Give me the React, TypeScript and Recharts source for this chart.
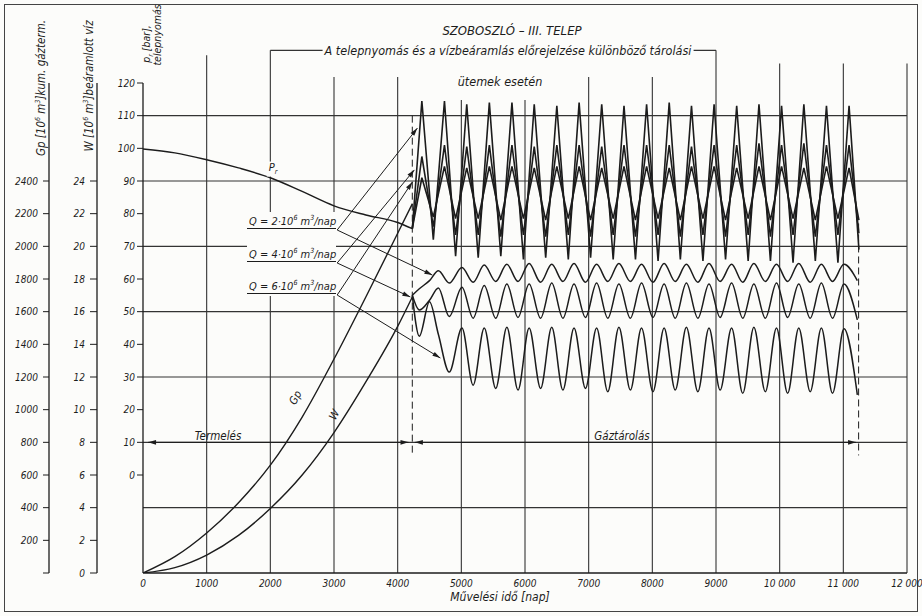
import { LineChart, Line, XAxis, YAxis, ReferenceLine } from 'recharts'
import type { ReactNode } from 'react'

const INK = '#1c1c1c'
const GRID = '#333'
const FONT = '"DejaVu Sans Condensed", "DejaVu Sans", sans-serif'

// y axis ids: Recharts stacks left axes by id, nearest the plot first
const PR = 'a_pr'
const W = 'b_w'
const GP = 'c_gp'

// axes
const dayTicks = [0, 1000, 2000, 3000, 4000, 5000, 6000, 7000, 8000, 9000, 10000, 11000, 12000]
const prTicks = [0, 10, 20, 30, 40, 50, 60, 70, 80, 90, 100, 110, 120]
const wTicks = [0, 2, 4, 6, 8, 10, 12, 14, 16, 18, 20, 22, 24]
const gpTicks = [0, 200, 400, 600, 800, 1000, 1200, 1400, 1600, 1800, 2000, 2200, 2400]
const gridPr = [110, 90, 70, 50, 30, 10, -10]
const gridDays = [1000, 2000, 3000, 4000, 5000, 6000, 7000, 8000, 9000, 10000, 11000, 12000]
const gridTopPr = [128.5, 130, 121.8, 121.8, 114.8, 114.8, 121.8, 121.8, 130, 126, 126, 126]

// production period (Termelés)
const prodDays = [0, 500, 1000, 1500, 2000, 2500, 3000, 3500, 4000, 4230]
const prodPr = [99.8, 98.6, 96.5, 94, 91, 86.8, 82.4, 79.6, 77.3, 75.4]
const prodGp = [0, 100, 245, 430, 660, 955, 1310, 1690, 2080, 2260]
const prodW = [0, 0.33, 1.1, 2.3, 3.95, 6.0, 8.6, 11.7, 15.1, 16.9]

// storage period (Gáztárolás) - reservoir pressure, bar
const upperDays = [4230, 4380, 4560, 4735, 4910, 5085, 5265, 5440, 5620, 5795, 5975, 6145, 6325, 6500, 6680, 6850, 7030, 7205, 7385, 7555, 7735, 7910, 8090, 8265, 8440, 8615, 8795, 8970, 9150, 9325, 9505, 9675, 9855, 10030, 10210, 10380, 10560, 10735, 10915, 11090, 11245]
const prQ6 = [75.4, 114.5, 72, 114.5, 67, 113.5, 66.5, 114, 67, 114, 66, 113.5, 66.5, 113, 66, 114, 66.5, 113.5, 66, 113, 66, 113.5, 65.5, 114, 66, 113, 65.5, 113.5, 66, 113, 65.5, 113.5, 65.5, 113, 65, 113.5, 65.5, 113, 65, 113, 69]
const prQ4 = [75.4, 97.5, 76, 101, 73.5, 100.5, 73.5, 101, 73, 101, 73.5, 100.5, 73, 101, 73.5, 101, 73, 100.5, 73.5, 101, 73, 101, 73.5, 101, 73, 100.5, 73.5, 101, 73, 101, 73.5, 101.5, 73, 101, 73.5, 101.5, 73, 101, 73.5, 101, 74]
const prQ2 = [75.4, 91, 79, 94.5, 78.5, 94, 78.5, 94.5, 78, 94.5, 78.5, 94, 78, 94.5, 78.5, 94.5, 78, 94, 78.5, 94.5, 78, 94.5, 78.5, 94, 78, 94.5, 78.5, 94.5, 78, 94, 78.5, 94.5, 78, 94.5, 78.5, 94, 78, 94.5, 78.5, 94, 78]

// storage period - water influx, 10^6 m3
const lowerDays = [4230, 4340, 4500, 4640, 4810, 5010, 5185, 5360, 5540, 5715, 5890, 6065, 6245, 6420, 6595, 6770, 6950, 7125, 7300, 7475, 7655, 7830, 8010, 8185, 8360, 8535, 8715, 8890, 9065, 9245, 9420, 9595, 9775, 9950, 10125, 10300, 10480, 10655, 10830, 11010, 11220]
const wQ2 = [17.0, 17.4, 17.9, 18.5, 17.75, 18.7, 17.8, 18.85, 17.85, 18.9, 17.85, 18.95, 17.8, 18.9, 17.85, 18.95, 17.8, 18.9, 17.85, 18.95, 17.85, 18.9, 17.8, 18.95, 17.85, 18.9, 17.8, 18.95, 17.85, 18.9, 17.8, 18.95, 17.85, 18.9, 17.85, 18.95, 17.8, 18.9, 17.85, 18.9, 17.9]
const wQ4 = [17.0, 16.1, 16.7, 17.45, 15.7, 17.5, 15.6, 17.6, 15.6, 17.7, 15.65, 17.7, 15.6, 17.75, 15.6, 17.7, 15.65, 17.75, 15.6, 17.7, 15.6, 17.75, 15.65, 17.7, 15.6, 17.75, 15.6, 17.7, 15.65, 17.75, 15.6, 17.7, 15.6, 17.75, 15.65, 17.7, 15.6, 17.75, 15.6, 17.7, 15.5]
const wQ6 = [17.0, 14.5, 16.6, 14.6, 12.3, 15.0, 11.5, 15.0, 11.3, 15.05, 11.2, 15.0, 11.3, 15.05, 11.2, 15.0, 11.3, 15.0, 11.1, 15.05, 11.2, 15.0, 11.1, 15.0, 11.2, 15.05, 11.1, 15.0, 11.2, 15.0, 11.0, 15.05, 11.1, 15.0, 11.0, 15.0, 11.1, 15.0, 11.0, 14.95, 10.9]

// annotation arrows from the Q labels (day, bar)
const qLabelEndDay = 3050
const qLabelPr = [75, 64.9, 55.1]
const qUpTarget = [[4310, 106.2], [4262, 93.4], [4231, 89.7]]
const qDownTarget = [[4545, 61.2], [4199, 54.5], [4671, 35.8]]
const storageStart = 4230
const storageEnd = 11240

const prodData = prodDays.map((d, i) => ({ day: d, pr: prodPr[i], gp: prodGp[i], w: prodW[i] }))
const upperData = upperDays.map((d, i) => ({ day: d, q2: prQ2[i], q4: prQ4[i], q6: prQ6[i] }))
const lowerData = lowerDays.map((d, i) => ({ day: d, q2: wQ2[i], q4: wQ4[i], q6: wQ6[i] }))

const tickStyle = { fontSize: 10, fontStyle: 'italic', fill: INK, fontFamily: FONT }

const fmtDay = (v: number) => (v >= 10000 ? `${Math.floor(v / 1000)} 000` : String(v))

function head(xa: number, ya: number, xb: number, yb: number) {
  const a = Math.atan2(yb - ya, xb - xa)
  const L = 8
  const w = 2.3
  const bx = xb - L * Math.cos(a)
  const by = yb - L * Math.sin(a)
  const px = -Math.sin(a) * w
  const py = Math.cos(a) * w
  return <polygon points={`${xb},${yb} ${bx + px},${by + py} ${bx - px},${by - py}`} fill={INK} />
}

const arrow = (start: boolean, end: boolean) => (p: any) => (
  <g>
    <line x1={p.x1} y1={p.y1} x2={p.x2} y2={p.y2} stroke={INK} strokeWidth={1} />
    {start && head(p.x2, p.y2, p.x1, p.y1)}
    {end && head(p.x1, p.y1, p.x2, p.y2)}
  </g>
)

function Txt({ x, y, size = 11, rotate = 0, bg, children }: { x: number; y: number; size?: number; rotate?: number; bg?: boolean; children: ReactNode }) {
  return (
    <div
      style={{
        position: 'absolute',
        left: x,
        top: y,
        transform: `translate(-50%, -50%) rotate(${rotate}deg)`,
        fontSize: size,
        fontStyle: 'italic',
        fontFamily: FONT,
        color: INK,
        whiteSpace: 'nowrap',
        lineHeight: 1.1,
        background: bg ? '#fcfcfa' : 'transparent',
        padding: bg ? '0 2px' : 0,
      }}
    >
      {children}
    </div>
  )
}

function QLabel({ y, q }: { y: number; q: string }) {
  return (
    <div style={{ position: 'absolute', left: 247, top: y - 16, width: 89, height: 15, borderBottom: `1px solid ${INK}`, fontSize: 11, fontStyle: 'italic', fontFamily: FONT, color: INK, whiteSpace: 'nowrap', paddingLeft: 2, boxSizing: 'border-box' }}>
      Q = {q}·10<sup style={{ fontSize: 7 }}>6</sup> m<sup style={{ fontSize: 7 }}>3</sup>/nap
    </div>
  )
}

export default function App() {
  return (
    <div style={{ position: 'absolute', left: 0, top: 0, width: 922, height: 616, background: '#fcfcfa', fontFamily: FONT, overflow: 'hidden' }}>
      <div style={{ position: 'absolute', left: 4, top: 4, width: 912, height: 606, border: '1.5px solid #444' }} />
      <LineChart width={922} height={616} margin={{ top: 83, right: 15, bottom: 13, left: 8 }}>
        <XAxis
          type="number"
          dataKey="day"
          domain={[0, 12000]}
          ticks={dayTicks}
          interval={0}
          tickFormatter={fmtDay}
          height={30}
          tickLine={false}
          tickMargin={1}
          axisLine={{ stroke: INK, strokeWidth: 1.3 }}
          tick={tickStyle}
          allowDataOverflow
        />
        <YAxis yAxisId={PR} domain={[-30, 120]} ticks={prTicks} interval={0} width={46} tickSize={6} tickMargin={2} axisLine={{ stroke: INK, strokeWidth: 1.3 }} tickLine={{ stroke: INK }} tick={tickStyle} allowDataOverflow />
        <YAxis yAxisId={W} domain={[0, 30]} ticks={wTicks} interval={0} width={48} tickSize={7} tickMargin={5} axisLine={{ stroke: INK, strokeWidth: 1.3 }} tickLine={{ stroke: INK }} tick={tickStyle} allowDataOverflow />
        <YAxis yAxisId={GP} domain={[0, 3000]} ticks={gpTicks} interval={0} width={41} tickSize={6} tickMargin={5} tickFormatter={(v: number) => (v === 0 ? '' : String(v))} axisLine={{ stroke: INK, strokeWidth: 1.3 }} tickLine={{ stroke: INK }} tick={tickStyle} allowDataOverflow />

        {gridPr.map((v) => (
          <ReferenceLine key={`h${v}`} yAxisId={PR} y={v} stroke={GRID} strokeWidth={1.1} />
        ))}
        {gridDays.map((d, i) => (
          <ReferenceLine key={`v${d}`} yAxisId={PR} segment={[{ x: d, y: gridTopPr[i] }, { x: d, y: -30 }]} ifOverflow="visible" stroke={GRID} strokeWidth={1.1} />
        ))}
        {/* title bracket */}
        <ReferenceLine yAxisId={PR} segment={[{ x: 2000, y: 130 }, { x: 9000, y: 130 }]} ifOverflow="visible" stroke={GRID} strokeWidth={1.1} />

        {/* start / end of storage */}
        <ReferenceLine yAxisId={PR} segment={[{ x: storageStart, y: 110 }, { x: storageStart, y: 6 }]} stroke={INK} strokeDasharray="7 4" />
        <ReferenceLine yAxisId={PR} segment={[{ x: storageEnd, y: 77 }, { x: storageEnd, y: 6 }]} stroke={INK} strokeDasharray="7 4" />
        <ReferenceLine yAxisId={PR} segment={[{ x: 80, y: 10 }, { x: storageStart - 60, y: 10 }]} shape={arrow(true, true)} />
        <ReferenceLine yAxisId={PR} segment={[{ x: storageStart + 40, y: 10 }, { x: storageEnd - 40, y: 10 }]} shape={arrow(true, true)} />

        {qLabelPr.map((v, i) => (
          <ReferenceLine key={`up${i}`} yAxisId={PR} segment={[{ x: qLabelEndDay, y: v }, { x: qUpTarget[i][0], y: qUpTarget[i][1] }]} shape={arrow(false, true)} />
        ))}
        {qLabelPr.map((v, i) => (
          <ReferenceLine key={`dn${i}`} yAxisId={PR} segment={[{ x: qLabelEndDay, y: v }, { x: qDownTarget[i][0], y: qDownTarget[i][1] }]} shape={arrow(false, true)} />
        ))}

        <Line data={prodData} dataKey="pr" yAxisId={PR} type="monotone" stroke={INK} strokeWidth={1.4} dot={false} isAnimationActive={false} />
        <Line data={prodData} dataKey="gp" yAxisId={GP} type="monotone" stroke={INK} strokeWidth={1.4} dot={false} isAnimationActive={false} />
        <Line data={prodData} dataKey="w" yAxisId={W} type="monotone" stroke={INK} strokeWidth={1.4} dot={false} isAnimationActive={false} />

        <Line data={upperData} dataKey="q6" yAxisId={PR} type="linear" stroke={INK} strokeWidth={1.6} dot={false} isAnimationActive={false} />
        <Line data={upperData} dataKey="q4" yAxisId={PR} type="linear" stroke={INK} strokeWidth={1.6} dot={false} isAnimationActive={false} />
        <Line data={upperData} dataKey="q2" yAxisId={PR} type="linear" stroke={INK} strokeWidth={1.6} dot={false} isAnimationActive={false} />

        <Line data={lowerData} dataKey="q2" yAxisId={W} type="monotone" stroke={INK} strokeWidth={1.5} dot={false} isAnimationActive={false} />
        <Line data={lowerData} dataKey="q4" yAxisId={W} type="monotone" stroke={INK} strokeWidth={1.5} dot={false} isAnimationActive={false} />
        <Line data={lowerData} dataKey="q6" yAxisId={W} type="monotone" stroke={INK} strokeWidth={1.5} dot={false} isAnimationActive={false} />
      </LineChart>

      {/* titles */}
      <Txt x={512} y={31} size={13}>SZOBOSZLÓ – III. TELEP</Txt>
      <Txt x={508} y={51} size={12.5} bg>A telepnyomás és a vízbeáramlás előrejelzése különböző tárolási</Txt>
      <Txt x={500} y={82} size={12.5} bg>ütemek esetén</Txt>

      {/* axis titles */}
      <Txt x={41} y={88} size={11.5} rotate={-90}>
        Gp [10<sup style={{ fontSize: 7 }}>6</sup> m<sup style={{ fontSize: 7 }}>3</sup>]kum. gázterm.
      </Txt>
      <Txt x={89} y={86} size={11.5} rotate={-90}>
        W [10<sup style={{ fontSize: 7 }}>6</sup> m<sup style={{ fontSize: 7 }}>3</sup>]beáramlott víz
      </Txt>
      <Txt x={148} y={44} size={10.5} rotate={-90}>
        p<sub style={{ fontSize: 7 }}>r</sub> [bar],
      </Txt>
      <Txt x={158} y={35} size={10.5} rotate={-90}>telepnyomás</Txt>
      <Txt x={500} y={598} size={12}>Művelési idő [nap]</Txt>

      {/* curve labels */}
      <Txt x={273} y={169} size={11} bg>
        P<sub style={{ fontSize: 7 }}>r</sub>
      </Txt>
      <Txt x={296} y={398} size={11} rotate={-62}>Gp</Txt>
      <Txt x={335} y={415} size={11} rotate={-62}>W</Txt>
      <Txt x={218} y={436} size={11.5}>Termelés</Txt>
      <Txt x={622} y={436} size={11.5}>Gáztárolás</Txt>

      {/* Q labels */}
      <div style={{ position: 'absolute', left: 247, top: 212, width: 89, height: 84, background: '#fcfcfa' }} />
      <QLabel y={230} q="2" />
      <QLabel y={263} q="4" />
      <QLabel y={295} q="6" />
    </div>
  )
}
